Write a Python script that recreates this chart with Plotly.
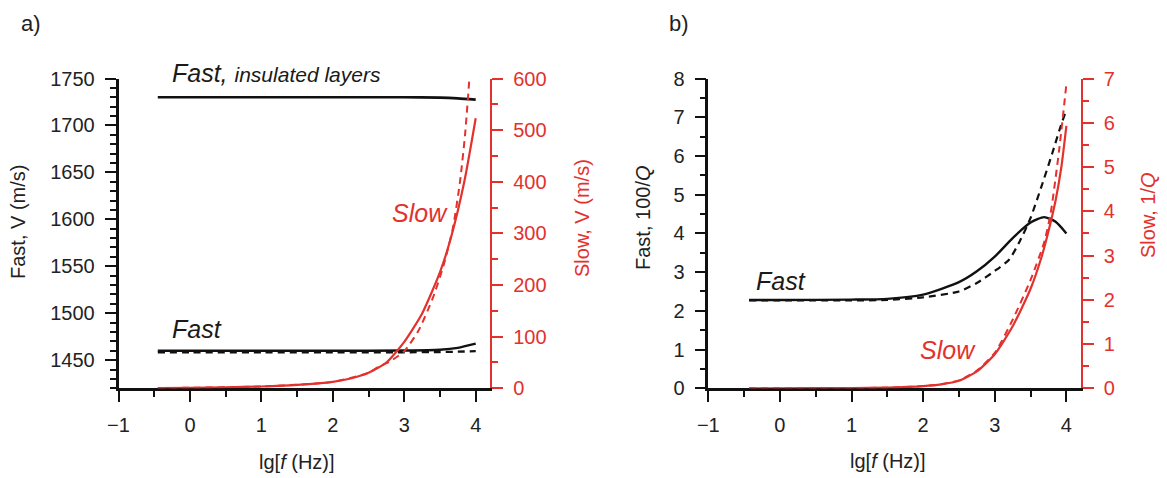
import plotly.graph_objects as go

W, H = 1167, 478
BLACK = "#111111"
RED = "#e3312d"
FONT = "Liberation Sans, Arial, sans-serif"

# ---------------- data: panel a) velocities ----------------
lgf_fast_a = [-0.45, 0.0, 1.0, 2.0, 3.0, 3.5, 3.75, 4.0]
v_fast_a_solid = [1460.0, 1460.0, 1460.0, 1460.0, 1460.2, 1461.0, 1463.0, 1467.5]
v_fast_a_dashed = [1458.3, 1458.3, 1458.3, 1458.3, 1458.4, 1458.6, 1459.0, 1459.5]
v_fast_insulated = [1730.0, 1730.0, 1730.0, 1730.0, 1730.0, 1729.6, 1728.8, 1727.5]

lgf_slow_a_solid = [-0.45, 0.0, 0.5, 1.0, 1.5, 2.0, 2.25, 2.5, 2.75, 3.0, 3.25, 3.5, 3.65, 3.84, 4.0]
v_slow_a_solid = [0.5, 1.0, 2.0, 3.5, 6.5, 12.5, 19, 30, 50, 90, 145, 225, 290, 400, 523]
lgf_slow_a_dashed = [-0.45, 0.0, 1.0, 2.0, 2.5, 2.63, 2.8, 3.0, 3.2, 3.4, 3.55, 3.68, 3.78, 3.85, 3.91]
v_slow_a_dashed = [0.5, 1.0, 3.5, 12.5, 30, 41, 52, 72, 112, 175, 238, 310, 400, 490, 597]

# ---------------- data: panel b) attenuation ----------------
lgf_fast_b_solid = [-0.43, 0.0, 1.0, 1.5, 2.0, 2.5, 2.75, 3.0, 3.25, 3.5, 3.69, 3.85, 4.0]
q_fast_b_solid = [2.28, 2.28, 2.29, 2.31, 2.42, 2.74, 3.02, 3.40, 3.88, 4.28, 4.42, 4.30, 4.0]
lgf_fast_b_dashed = [-0.43, 0.0, 1.0, 1.5, 2.0, 2.5, 2.75, 3.0, 3.2, 3.35, 3.5, 3.65, 3.8, 3.9, 4.0]
q_fast_b_dashed = [2.27, 2.27, 2.27, 2.28, 2.35, 2.50, 2.72, 3.03, 3.32, 3.80, 4.40, 5.20, 6.05, 6.65, 7.20]

lgf_slow_b_solid = [-0.43, 0.0, 1.0, 1.5, 2.0, 2.25, 2.5, 2.75, 3.0, 3.25, 3.5, 3.65, 3.75, 3.85, 3.93, 4.0]
q_slow_b_solid = [0.0, 0.0, 0.005, 0.015, 0.05, 0.09, 0.17, 0.38, 0.77, 1.4, 2.25, 2.95, 3.55, 4.25, 5.0, 5.93]
lgf_slow_b_dashed = [-0.43, 0.0, 1.0, 1.5, 2.0, 2.25, 2.5, 2.75, 3.0, 3.25, 3.5, 3.69, 3.78, 3.9, 4.0]
q_slow_b_dashed = [0.0, 0.0, 0.005, 0.015, 0.05, 0.09, 0.18, 0.40, 0.80, 1.55, 2.45, 3.3, 3.95, 5.4, 6.87]

x_ticks = [-1, 0, 1, 2, 3, 4]


def px(x):
    return x / W


def py(y):
    return 1 - y / H


fig = go.Figure()


def add_line(x, y, xa, ya, color, dashed=False, width=2.3):
    fig.add_trace(go.Scatter(
        x=x, y=y, xaxis=xa, yaxis=ya, mode="lines",
        line=dict(color=color, width=width, shape="spline", smoothing=0.6,
                  dash="7px,5px" if dashed else "solid"),
        hoverinfo="skip", showlegend=False))


# panel a
add_line(lgf_fast_a, v_fast_insulated, "x", "y", BLACK, width=2.6)
add_line(lgf_fast_a, v_fast_a_dashed, "x", "y", BLACK, dashed=True, width=2.3)
add_line(lgf_fast_a, v_fast_a_solid, "x", "y", BLACK, width=2.4)
add_line(lgf_slow_a_dashed, v_slow_a_dashed, "x", "y2", RED, dashed=True, width=2.0)
add_line(lgf_slow_a_solid, v_slow_a_solid, "x", "y2", RED, width=2.2)
# panel b
add_line(lgf_fast_b_dashed, q_fast_b_dashed, "x2", "y3", BLACK, dashed=True, width=2.2)
add_line(lgf_fast_b_solid, q_fast_b_solid, "x2", "y3", BLACK, width=2.4)
add_line(lgf_slow_b_dashed, q_slow_b_dashed, "x2", "y4", RED, dashed=True, width=2.0)
add_line(lgf_slow_b_solid, q_slow_b_solid, "x2", "y4", RED, width=2.2)

ydom = [py(388.3), py(78.5)]
xdom_a = [px(118.5), px(490.0)]
xdom_b = [px(708.3), px(1080.7)]


def xaxis(domain, anchor):
    return dict(domain=domain, anchor=anchor, range=[-1, 4.2],
                tickmode="array", tickvals=x_ticks,
                ticktext=["\u22121", "0", "1", "2", "3", "4"],
                ticks="outside", ticklen=11, tickwidth=1.6, tickcolor=BLACK,
                minor=dict(ticks="outside", ticklen=6, tickwidth=1.6, tickcolor=BLACK,
                           tickmode="linear", tick0=-1, dtick=0.5, showgrid=False),
                showline=True, linecolor=BLACK, linewidth=2.5,
                showgrid=False, zeroline=False, layer="below traces",
                tickfont=dict(family=FONT, size=20, color="#222222"),
                ticklabelstandoff=6, fixedrange=True, automargin=False)


def yaxis(domain, anchor, rng, dtick, minor, color, side="left", overlaying=None):
    d = dict(domain=domain, anchor=anchor, range=rng, side=side,
             tickmode="linear", tick0=0, dtick=dtick,
             ticks="outside", ticklen=11, tickwidth=1.6, tickcolor=color,
             minor=dict(ticks="outside", ticklen=6, tickwidth=1.6, tickcolor=color,
                        tickmode="linear", tick0=0, dtick=minor, showgrid=False),
             showline=True, linecolor=color, linewidth=2.3 if color == RED else 2.5,
             showgrid=False, zeroline=False, layer="below traces",
             tickfont=dict(family=FONT, size=20, color="#222222" if color == BLACK else RED),
             ticklabelstandoff=6, fixedrange=True, automargin=False)
    if overlaying:
        d["overlaying"] = overlaying
    return d


fig.update_layout(
    width=W, height=H, autosize=False,
    margin=dict(l=0, r=0, t=0, b=0, pad=0, autoexpand=False),
    paper_bgcolor="white", plot_bgcolor="rgba(0,0,0,0)",
    showlegend=False,
    xaxis=xaxis(xdom_a, "y"),
    xaxis2=xaxis(xdom_b, "y3"),
    yaxis=yaxis(ydom, "x", [1420, 1750], 50, 10, BLACK),
    yaxis2=yaxis(ydom, "x", [0, 600], 100, 50, RED, side="right", overlaying="y"),
    yaxis3=yaxis(ydom, "x2", [0, 8], 1, 0.5, BLACK),
    yaxis4=yaxis(ydom, "x2", [0, 7], 1, 0.5, RED, side="right", overlaying="y3"),
)


def note(text, x, y, size=20, color="#222222", angle=0, xanchor="center"):
    fig.add_annotation(text=text, x=px(x), y=py(y), xref="paper", yref="paper",
                       showarrow=False, textangle=angle, xanchor=xanchor, yanchor="middle",
                       font=dict(family=FONT, size=size, color=color))


# panel labels
note("a)", 31, 23, size=22)
note("b)", 679, 23, size=22)

# axis titles
note("Fast, V (m/s)", 18, 222, angle=-90)
note("Slow, V (m/s)", 582, 218, angle=-90, color=RED)
note("Fast, 100/<i>Q</i>", 643, 218, angle=-90)
note("Slow, 1/<i>Q</i>", 1148, 215, angle=-90, color=RED)
note("lg[<i>f</i> (Hz)]", 297, 462)
note("lg[<i>f</i> (Hz)]", 888, 461)

# curve labels
note("<i>Fast, </i><i><span style='font-size:21px'>insulated layers</span></i>", 170, 73,
     size=25, color="#1a1a1a", xanchor="left")
note("<i>Fast</i>", 197, 329, size=25, color="#1a1a1a")
note("<i>Slow</i>", 420, 213, size=25, color=RED)
note("<i>Fast</i>", 781, 281, size=25, color="#1a1a1a")
note("<i>Slow</i>", 948, 350, size=25, color=RED)

fig.write_html("out.html")
